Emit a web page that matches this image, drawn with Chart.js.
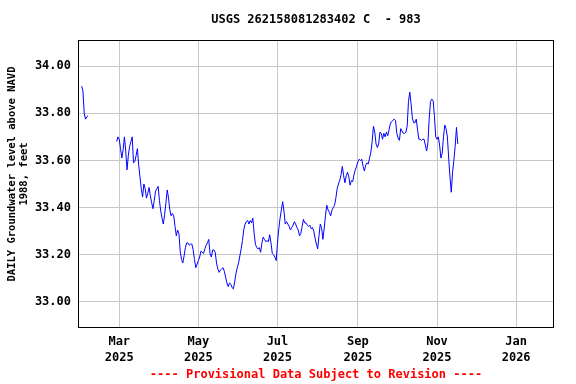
<!DOCTYPE html>
<html>
<head>
<meta charset="utf-8">
<script src="https://cdn.jsdelivr.net/npm/chart.js@4.4.0/dist/chart.umd.min.js"></script>
<style>
  html, body { margin: 0; padding: 0; background: #fff; }
  #wrap { width: 576px; height: 384px; }
</style>
</head>
<body>
<div id="wrap"><canvas id="gwChart" width="576" height="384"></canvas></div>
<script>
const siteTitle = 'USGS 262158081283402 C  - 983';
const yAxisTitle = ['DAILY Groundwater level above NAVD', '1988, feet'];
const footNote = '---- Provisional Data Subject to Revision ----';

// x values are days since Jan 1 2025
const monthTicks = [59, 120, 181, 243, 304, 365];
const monthLabels = [['Mar', '2025'], ['May', '2025'], ['Jul', '2025'], ['Sep', '2025'], ['Nov', '2025'], ['Jan', '2026']];
const levelTicks = [33.0, 33.2, 33.4, 33.6, 33.8, 34.0];

// short record at the start of February
const earlyDays = [30, 31, 32, 33, 34, 35];
const earlyLevels = [33.915, 33.895, 33.80, 33.775, 33.785, 33.79];

// continuous daily record from Feb 27 (day 57)
const startDay = 57;
const dailyLevels = [
  33.68, 33.70, 33.69, 33.65, 33.61, 33.645, 33.70, 33.64, 33.56, 33.62,
  33.66, 33.68, 33.70, 33.59, 33.595, 33.62, 33.65, 33.58, 33.53, 33.48,
  33.445, 33.50, 33.48, 33.44, 33.46, 33.485, 33.45, 33.42, 33.395, 33.43,
  33.47, 33.48, 33.49, 33.43, 33.385, 33.355, 33.33, 33.37, 33.42, 33.475,
  33.44, 33.39, 33.365, 33.375, 33.365, 33.32, 33.28, 33.305, 33.29, 33.215,
  33.18, 33.165, 33.195, 33.23, 33.25, 33.25, 33.24, 33.245, 33.245, 33.22,
  33.18, 33.145, 33.16, 33.175, 33.19, 33.215, 33.21, 33.205, 33.225, 33.24,
  33.25, 33.265, 33.205, 33.19, 33.22, 33.22, 33.21, 33.165, 33.14, 33.125,
  33.135, 33.14, 33.145, 33.13, 33.105, 33.08, 33.065, 33.08, 33.075, 33.06,
  33.055, 33.085, 33.12, 33.145, 33.165, 33.195, 33.225, 33.26, 33.305, 33.33,
  33.34, 33.345, 33.33, 33.345, 33.335, 33.355, 33.29, 33.245, 33.23, 33.225,
  33.23, 33.21, 33.25, 33.275, 33.265, 33.255, 33.26, 33.255, 33.285, 33.25,
  33.205, 33.20, 33.19, 33.175, 33.25, 33.31, 33.355, 33.39, 33.425, 33.385,
  33.33, 33.34, 33.33, 33.32, 33.305, 33.315, 33.325, 33.34, 33.33, 33.315,
  33.305, 33.28, 33.29, 33.32, 33.35, 33.335, 33.335, 33.325, 33.32, 33.325,
  33.31, 33.315, 33.30, 33.27, 33.245, 33.225, 33.28, 33.33, 33.315, 33.265,
  33.31, 33.365, 33.41, 33.39, 33.38, 33.365, 33.39, 33.40, 33.41, 33.44,
  33.48, 33.50, 33.515, 33.54, 33.575, 33.535, 33.505, 33.535, 33.55, 33.53,
  33.495, 33.515, 33.51, 33.54, 33.56, 33.575, 33.595, 33.605, 33.60, 33.605,
  33.575, 33.555, 33.58, 33.59, 33.585, 33.61, 33.635, 33.68, 33.745, 33.72,
  33.67, 33.655, 33.67, 33.72, 33.715, 33.69, 33.715, 33.70, 33.72, 33.705,
  33.73, 33.755, 33.765, 33.77, 33.775, 33.77, 33.715, 33.695, 33.685, 33.735,
  33.725, 33.715, 33.715, 33.72, 33.745, 33.85, 33.89, 33.84, 33.78, 33.76,
  33.76, 33.775, 33.73, 33.69, 33.69, 33.685, 33.69, 33.69, 33.665, 33.64,
  33.675, 33.78, 33.85, 33.86, 33.855, 33.79, 33.70, 33.69, 33.70, 33.665,
  33.61, 33.63, 33.70, 33.75, 33.735, 33.70, 33.61, 33.53, 33.465, 33.55,
  33.60, 33.66, 33.74, 33.67
];

const points = [];
earlyDays.forEach((d, i) => points.push({ x: d, y: earlyLevels[i] }));
points.push({ x: 46, y: null }); // missing record
dailyLevels.forEach((v, i) => points.push({ x: startDay + i, y: v }));

const monoBold = { family: 'DejaVu Sans Mono', size: 12, weight: 'bold' };

// title, y axis label, footnote and plot frame
const decorations = {
  id: 'decorations',
  afterDraw(chart) {
    const ctx = chart.ctx;
    const a = chart.chartArea;
    const cx = (a.left + a.right) / 2;
    ctx.save();
    ctx.strokeStyle = '#000';
    ctx.lineWidth = 1;
    ctx.strokeRect(a.left + 0.5, a.top + 0.5, a.right - a.left - 1, a.bottom - a.top - 1);
    ctx.font = 'bold 12px "DejaVu Sans Mono"';
    ctx.textAlign = 'center';
    ctx.textBaseline = 'middle';
    ctx.fillStyle = '#000';
    ctx.fillText(siteTitle, cx, 20);

    ctx.save();
    ctx.translate(0, 174);
    ctx.rotate(-Math.PI / 2);
    ctx.font = 'bold 10.5px "DejaVu Sans Mono"';
    ctx.fillText(yAxisTitle[0], 0, 12);
    ctx.fillText(yAxisTitle[1], 0, 24);
    ctx.restore();

    ctx.fillStyle = '#ff0000';
    ctx.fillText(footNote, cx, 375);
    ctx.restore();
  }
};

new Chart(document.getElementById('gwChart'), {
  type: 'line',
  data: {
    datasets: [{
      data: points,
      borderColor: '#0000ff',
      borderWidth: 1,
      pointRadius: 0,
      tension: 0,
      spanGaps: false
    }]
  },
  options: {
    responsive: false,
    animation: false,
    layout: { padding: { top: 40, right: 22, left: 0, bottom: 0 } },
    plugins: { legend: { display: false }, tooltip: { enabled: false } },
    scales: {
      x: {
        type: 'linear',
        min: 27.2,
        max: 394.2,
        afterBuildTicks: (scale) => { scale.ticks = monthTicks.map(v => ({ value: v })); },
        afterFit: (scale) => { scale.height = 56; },
        grid: { color: '#c8c8c8', drawTicks: false },
        border: { display: false },
        ticks: {
          autoSkip: false,
          maxRotation: 0,
          padding: 6,
          color: '#000',
          font: { ...monoBold, lineHeight: 1.35 },
          callback: (v) => monthLabels[monthTicks.indexOf(v)]
        }
      },
      y: {
        min: 32.889,
        max: 34.111,
        afterBuildTicks: (scale) => { scale.ticks = levelTicks.map(v => ({ value: v })); },
        afterFit: (scale) => { scale.width = 78; },
        grid: { color: '#c8c8c8', drawTicks: false },
        border: { display: false },
        ticks: {
          padding: 7,
          color: '#000',
          font: monoBold,
          callback: (v) => v.toFixed(2)
        }
      }
    }
  },
  plugins: [decorations]
});
</script>
</body>
</html>
